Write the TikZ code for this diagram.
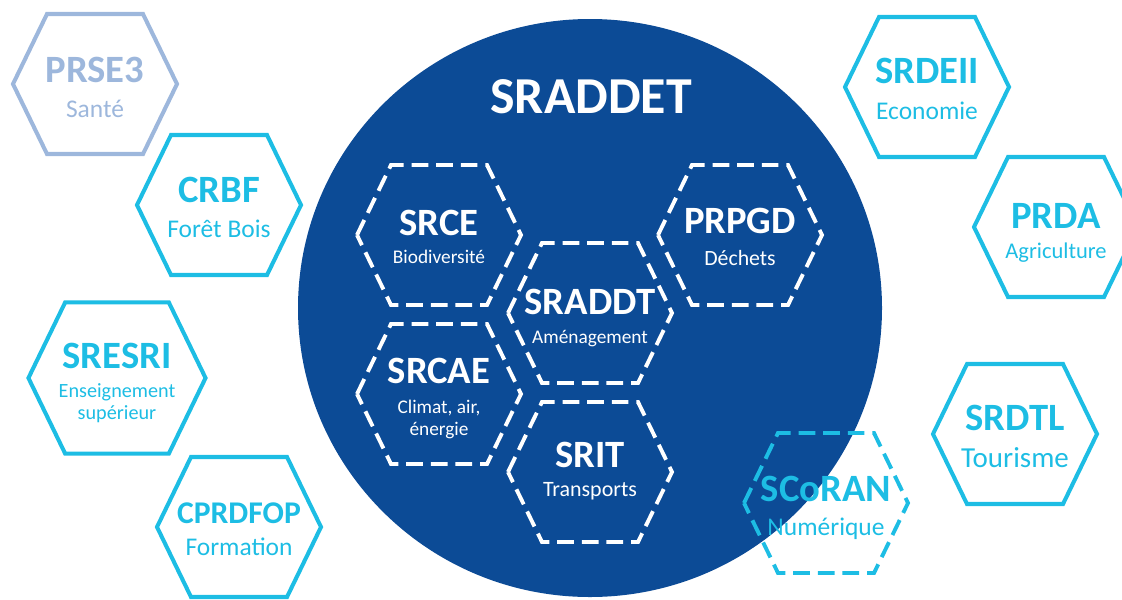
\documentclass[tikz,border=0pt]{standalone}
\usepackage{fontspec}
\setmainfont{Carlito}
\definecolor{sraddetblue}{HTML}{0C4B96}
\definecolor{plancyan}{HTML}{1DBDE4}
\definecolor{plangrey}{HTML}{9DB7DC}
\tikzset{
	solidhex/.style={line width=2.3pt, line join=miter},
	dashhex/.style={line width=2.2pt, dash pattern=on 9.5pt off 4.5pt},
	planname/.style={anchor=base, inner sep=0pt, font=\fontsize{22}{24}\selectfont\bfseries},
	planlabel/.style={anchor=base, inner sep=0pt, font=\fontsize{14.5}{16}\selectfont},
	innerlabel/.style={anchor=base, inner sep=0pt, font=\fontsize{11}{13}\selectfont}
}
\begin{document}
\begin{tikzpicture}[x=0.02cm, y=-0.02cm]
\useasboundingbox (0,0) rectangle (1122,599);

%big circle
\fill[sraddetblue] (590,308) ellipse [x radius=292, y radius=289];
\node[anchor=base, inner sep=0pt, font=\fontsize{29.5}{32}\selectfont\bfseries, text=white] (sraddet) at (591,113) {SRADDET};

%plans around
\foreach \cx/\cy/\sc/\col in {95/84/1/plangrey, 219/205/1/plancyan, 117/378/1.08/plancyan, 239/527/1/plancyan, 927/87/1/plancyan, 1056/227/1/plancyan, 1015/434/1/plancyan} {
	\draw[solidhex, \col, shift={(\cx,\cy)}, scale=\sc] (-82,0) -- (-48,-70) -- (48,-70) -- (82,0) -- (48,70) -- (-48,70) -- cycle;
}
\draw[dashhex, plancyan, shift={(826,503)}] (-82,0) -- (-48,-70) -- (48,-70) -- (82,0) -- (48,70) -- (-48,70) -- cycle;

%plans inside
\foreach \cx/\cy in {439/235, 740/235, 590/313, 439/394, 590/472} {
	\draw[dashhex, white, shift={(\cx,\cy)}] (-82,0) -- (-48,-70) -- (48,-70) -- (82,0) -- (48,70) -- (-48,70) -- cycle;
}

%texts around
\node[planname, text=plangrey] (prse) at (95,82) {PRSE3};
\node[planlabel, text=plangrey] (prse-sub) at (95,117) {Santé};
\node[planname, text=plancyan] (crbf) at (219,202) {CRBF};
\node[planlabel, text=plancyan] (crbf-sub) at (219,237) {Forêt Bois};
\node[planname, text=plancyan] (sresri) at (117,368) {SRESRI};
\node[planlabel, text=plancyan, font=\fontsize{11.5}{13}\selectfont] (sresri-sub) at (117,397) {Enseignement};
\node[planlabel, text=plancyan, font=\fontsize{11.5}{13}\selectfont] (sresri-sub2) at (117,419) {supérieur};
\node[planname, text=plancyan, font=\fontsize{18}{20}\selectfont\bfseries] (cprdfop) at (239,523) {CPRDFOP};
\node[planlabel, text=plancyan] (cprdfop-sub) at (239,555) {Formation};
\node[planname, text=plancyan] (srdeii) at (927,83) {SRDEII};
\node[planlabel, text=plancyan] (srdeii-sub) at (927,119) {Economie};
\node[planname, text=plancyan] (prda) at (1056,228) {PRDA};
\node[planlabel, text=plancyan, font=\fontsize{12.8}{14}\selectfont] (prda-sub) at (1056,258) {Agriculture};
\node[planname, text=plancyan] (srdtl) at (1015,430) {SRDTL};
\node[planlabel, text=plancyan, font=\fontsize{16.5}{18}\selectfont] (srdtl-sub) at (1015,467) {Tourisme};
\node[planname, text=plancyan] (scoran) at (826,501) {SCoRAN};
\node[planlabel, text=plancyan] (scoran-sub) at (826,535) {Numérique};

%texts inside
\node[planname, text=white] (srce) at (439,235) {SRCE};
\node[innerlabel, text=white] (srce-sub) at (439,263) {Biodiversité};
\node[planname, text=white] (prpgd) at (740,233) {PRPGD};
\node[innerlabel, text=white, font=\fontsize{12.4}{14}\selectfont] (prpgd-sub) at (740,265) {Déchets};
\node[planname, text=white] (sraddt) at (590,314) {SRADDT};
\node[innerlabel, text=white] (sraddt-sub) at (590,343) {Aménagement};
\node[planname, text=white] (srcae) at (439,383) {SRCAE};
\node[innerlabel, text=white] (srcae-sub) at (439,413) {Climat, air,};
\node[innerlabel, text=white] (srcae-sub2) at (439,435) {énergie};
\node[planname, text=white] (srit) at (590,467) {SRIT};
\node[innerlabel, text=white, font=\fontsize{12.5}{14}\selectfont] (srit-sub) at (590,496) {Transports};
\end{tikzpicture}
\end{document}
